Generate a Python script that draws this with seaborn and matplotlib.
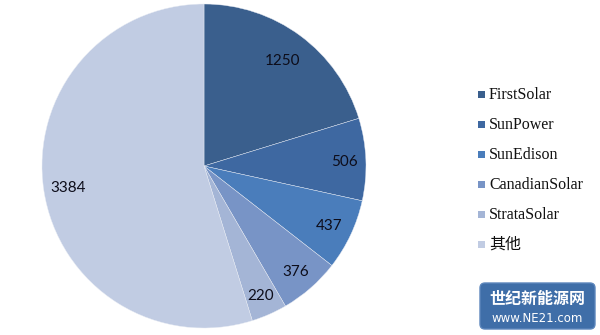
import matplotlib
matplotlib.use("Agg")
import matplotlib.pyplot as plt
import seaborn as sns
import numpy as np
from matplotlib.patches import FancyBboxPatch, Rectangle

sns.set_theme(style="white")
plt.rcParams['font.family'] = ['Liberation Serif', 'Noto Sans CJK SC', 'DejaVu Sans']

categories = ["FirstSolar", "SunPower", "SunEdison", "CanadianSolar", "StrataSolar", "其他"]
values = [1250, 506, 437, 376, 220, 3384]
colors = ["#3A5F8D", "#3E68A1", "#4A7DBB", "#7894C6", "#A4B5D6", "#C1CCE3"]
label_dist = [0.82, 0.865, 0.85, 0.86, 0.865, 0.85]

fig = plt.figure(figsize=(6, 3.35), dpi=100)
W, H = 600, 335
cx, cy, r = 204, 166, 162
ax = fig.add_axes([(cx - r) / W, (H - cy - r) / H, 2 * r / W, 2 * r / H])
wedges, _ = ax.pie(values, colors=colors, startangle=90, counterclock=False,
                   wedgeprops=dict(linewidth=0.3, edgecolor="#E8ECF4"))
ax.set_xlim(-1, 1)
ax.set_ylim(-1, 1)
ax.set_aspect("equal")
for w, v, d in zip(wedges, values, label_dist):
    ang = np.deg2rad((w.theta1 + w.theta2) / 2)
    ax.text(d * np.cos(ang), d * np.sin(ang), str(v), ha="center", va="center_baseline",
            fontsize=11, family=["Lato", "DejaVu Sans"], color="#0D0D1A")

# legend
lax = fig.add_axes([0, 0, 1, 1])
lax.set_xlim(0, W)
lax.set_ylim(H, 0)
lax.axis("off")
for i, (c, lab) in enumerate(zip(colors, categories)):
    y = 95 + 30 * i
    lax.add_patch(Rectangle((478, y - 4), 7, 7, facecolor=c, edgecolor="none"))
    lax.text(489, y, lab, ha="left", va="center", fontsize=11.5, color="#111111",
             family=["Liberation Serif", "Noto Sans CJK SC"])

# watermark logo
lax.add_patch(FancyBboxPatch((480, 283), 115, 46, boxstyle="round,pad=0,rounding_size=5",
                             facecolor="#3F6EA8", edgecolor="#5C86BC", linewidth=1))
lax.text(537, 299, "世纪新能源网", ha="center", va="center", fontsize=11.5, color="white",
         fontweight="bold", family=["Noto Sans CJK SC"])
lax.text(537, 319, "www.NE21.com", ha="center", va="center", fontsize=8.5, color="white",
         family=["DejaVu Sans"])

fig.savefig("out.png", dpi=100)
